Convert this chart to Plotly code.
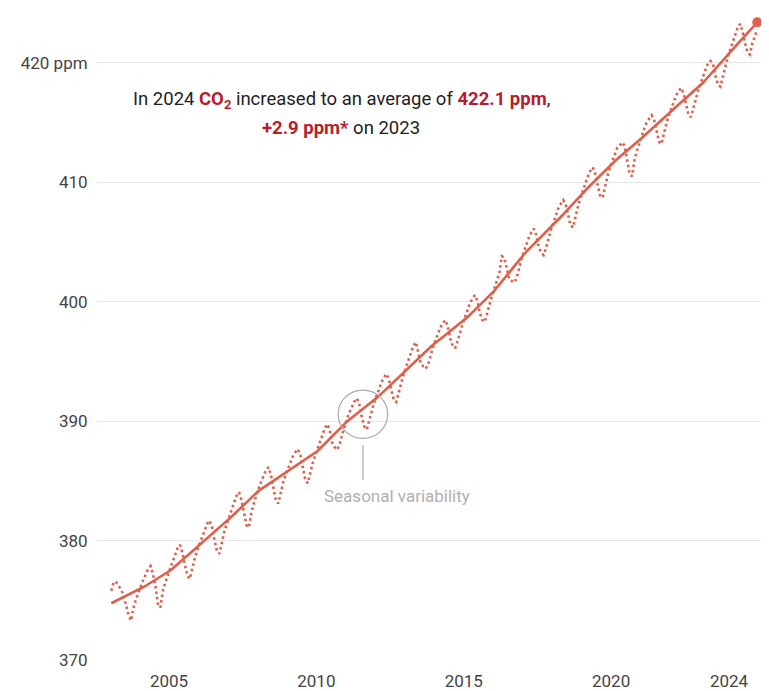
import plotly.graph_objects as go

# ---------------- data ----------------
years = list(range(2003, 2025))
months = list(range(1, 13))

# Monthly CO2 (dotted line), ppm, Jan..Dec per row
monthly_ppm = [
    375.80, 376.55, 376.50, 376.20, 375.90, 375.40, 374.60, 373.80, 373.30, 374.35, 375.05, 375.65,  # 2003
    376.16, 376.69, 377.16, 377.64, 377.86, 377.19, 376.11, 374.68, 374.40, 375.79, 376.51, 377.14,  # 2004
    377.69, 378.26, 378.79, 379.36, 379.64, 378.96, 377.94, 377.02, 376.80, 377.76, 378.54, 379.21,  # 2005
    379.79, 380.38, 380.91, 381.39, 381.68, 381.11, 380.09, 379.12, 378.90, 379.94, 380.73, 381.41,  # 2006
    382.00, 382.60, 383.15, 383.75, 384.05, 383.40, 382.40, 381.30, 381.10, 382.30, 383.10, 383.80,  # 2007
    384.37, 384.91, 385.40, 385.90, 386.14, 385.48, 384.42, 383.36, 383.10, 384.15, 384.89, 385.53,  # 2008
    386.07, 386.60, 387.08, 387.42, 387.65, 387.13, 386.07, 385.07, 384.80, 385.77, 386.50, 387.13,  # 2009
    387.70, 388.31, 388.87, 389.43, 389.74, 389.15, 388.15, 387.79, 387.60, 388.08, 388.89, 389.60,  # 2010
    390.18, 390.74, 391.25, 391.65, 391.91, 391.37, 390.33, 389.54, 389.30, 390.10, 390.86, 391.52,  # 2011
    392.10, 392.70, 393.25, 393.65, 393.95, 393.50, 392.50, 391.80, 391.60, 392.40, 393.20, 393.90,  # 2012
    394.50, 395.09, 395.63, 396.32, 396.61, 395.85, 394.85, 394.59, 394.38, 394.72, 395.51, 396.20,  # 2013
    396.78, 397.34, 397.85, 398.20, 398.46, 397.97, 396.93, 396.34, 396.10, 396.70, 397.46, 398.12,  # 2014
    398.70, 399.30, 399.85, 400.25, 400.55, 400.10, 399.10, 398.50, 398.30, 399.00, 399.80, 400.50,  # 2015
    401.13, 401.79, 402.40, 403.80, 403.70, 402.82, 401.88, 401.74, 401.60, 401.95, 402.81, 403.57,  # 2016
    404.20, 404.80, 405.35, 405.80, 406.10, 405.60, 404.60, 404.10, 403.90, 404.50, 405.30, 406.00,  # 2017
    406.61, 407.24, 407.81, 408.19, 408.51, 408.14, 407.16, 406.39, 406.21, 407.14, 407.96, 408.69,  # 2018
    409.30, 409.91, 410.47, 410.93, 411.24, 410.75, 409.75, 408.89, 408.70, 409.68, 410.49, 411.20,  # 2019
    411.79, 412.36, 412.89, 413.06, 413.34, 413.06, 412.04, 410.72, 410.50, 411.86, 412.64, 413.31,  # 2020
    413.90, 414.49, 415.03, 415.32, 415.61, 415.25, 414.25, 413.41, 413.20, 414.12, 414.91, 415.60,  # 2021
    416.19, 416.76, 417.29, 417.61, 417.89, 417.46, 416.44, 415.67, 415.45, 416.26, 417.04, 417.71,  # 2022
    418.32, 418.95, 419.53, 420.02, 420.15, 419.88, 418.92, 418.17, 418.00, 418.92, 419.75, 420.48,  # 2023
    421.11, 421.74, 422.31, 422.94, 423.26, 422.64, 421.66, 420.88, 420.70, 421.64, 422.20, 422.80,  # 2024
]

# De-seasonalised trend (solid line), ppm, Jan..Dec per row
trend_ppm = [
    374.75, 374.85, 374.95, 375.05, 375.15, 375.25, 375.35, 375.45, 375.55, 375.65, 375.75, 375.85,  # 2003
    375.96, 376.09, 376.21, 376.34, 376.46, 376.59, 376.71, 376.84, 376.96, 377.09, 377.21, 377.34,  # 2004
    377.49, 377.66, 377.84, 378.01, 378.19, 378.36, 378.54, 378.71, 378.89, 379.06, 379.24, 379.41,  # 2005
    379.59, 379.78, 379.96, 380.14, 380.33, 380.51, 380.69, 380.88, 381.06, 381.24, 381.43, 381.61,  # 2006
    381.80, 382.00, 382.20, 382.40, 382.60, 382.80, 383.00, 383.20, 383.40, 383.60, 383.80, 384.00,  # 2007
    384.17, 384.31, 384.45, 384.60, 384.74, 384.88, 385.02, 385.16, 385.30, 385.45, 385.59, 385.73,  # 2008
    385.87, 386.00, 386.13, 386.27, 386.40, 386.53, 386.67, 386.80, 386.93, 387.07, 387.20, 387.33,  # 2009
    387.50, 387.71, 387.92, 388.13, 388.34, 388.55, 388.75, 388.96, 389.17, 389.38, 389.59, 389.80,  # 2010
    389.98, 390.14, 390.30, 390.45, 390.61, 390.77, 390.93, 391.09, 391.25, 391.40, 391.56, 391.72,  # 2011
    391.90, 392.10, 392.30, 392.50, 392.70, 392.90, 393.10, 393.30, 393.50, 393.70, 393.90, 394.10,  # 2012
    394.30, 394.49, 394.68, 394.87, 395.06, 395.25, 395.45, 395.64, 395.83, 396.02, 396.21, 396.40,  # 2013
    396.58, 396.74, 396.90, 397.05, 397.21, 397.37, 397.53, 397.69, 397.85, 398.00, 398.16, 398.32,  # 2014
    398.50, 398.70, 398.90, 399.10, 399.30, 399.50, 399.70, 399.90, 400.10, 400.30, 400.50, 400.70,  # 2015
    400.93, 401.19, 401.45, 401.70, 401.96, 402.22, 402.48, 402.74, 403.00, 403.25, 403.51, 403.77,  # 2016
    404.00, 404.20, 404.40, 404.60, 404.80, 405.00, 405.20, 405.40, 405.60, 405.80, 406.00, 406.20,  # 2017
    406.41, 406.64, 406.86, 407.09, 407.31, 407.54, 407.76, 407.99, 408.21, 408.44, 408.66, 408.89,  # 2018
    409.10, 409.31, 409.52, 409.73, 409.94, 410.15, 410.35, 410.56, 410.77, 410.98, 411.19, 411.40,  # 2019
    411.59, 411.76, 411.94, 412.11, 412.29, 412.46, 412.64, 412.81, 412.99, 413.16, 413.34, 413.51,  # 2020
    413.70, 413.89, 414.08, 414.27, 414.46, 414.65, 414.85, 415.04, 415.23, 415.42, 415.61, 415.80,  # 2021
    415.99, 416.16, 416.34, 416.51, 416.69, 416.86, 417.04, 417.21, 417.39, 417.56, 417.74, 417.91,  # 2022
    418.12, 418.35, 418.58, 418.82, 419.05, 419.28, 419.52, 419.75, 419.98, 420.22, 420.45, 420.68,  # 2023
    420.91, 421.14, 421.36, 421.59, 421.81, 422.04, 422.26, 422.49, 422.71, 422.94, 423.16, 423.39,  # 2024
]

x_tick_values = [2005, 2010, 2015, 2020, 2024]
x_tick_labels = ["2005", "2010", "2015", "2020", "2024"]
y_tick_values = [370, 380, 390, 400, 410, 420]
y_tick_labels = ["370", "380", "390", "400", "410", "420 ppm"]

# mid-month positions on a decimal-year axis
x_time = [y + (m - 0.5) / 12 for y in years for m in months]

# ---------------- styles ----------------
LINE_COLOR = "#df5f4b"
RED_TEXT = "#b71c2e"
FONT = "Roboto"

fig = go.Figure()

fig.add_trace(go.Scatter(
    x=x_time, y=monthly_ppm, mode="lines",
    line=dict(color=LINE_COLOR, width=2.6, dash="2.5px,3px"),
    hoverinfo="skip", showlegend=False,
))
fig.add_trace(go.Scatter(
    x=x_time, y=trend_ppm, mode="lines",
    line=dict(color=LINE_COLOR, width=2.6),
    hoverinfo="skip", showlegend=False,
))
fig.add_trace(go.Scatter(
    x=[x_time[-1]], y=[trend_ppm[-1]], mode="markers",
    marker=dict(color=LINE_COLOR, size=10),
    hoverinfo="skip", showlegend=False, cliponaxis=False,
))

# seasonal variability circle + leader line
fig.add_shape(type="circle", xref="x", yref="y",
              x0=2010.74, x1=2012.42, y0=388.55, y1=392.60,
              line=dict(color="#a9a9a9", width=1.2))
fig.add_shape(type="line", xref="x", yref="y",
              x0=2011.58, x1=2011.58, y0=388.0, y1=385.1,
              line=dict(color="#a9a9a9", width=1.2))
fig.add_annotation(x=2012.74, y=383.75, xref="x", yref="y",
                   text="Seasonal variability", showarrow=False,
                   font=dict(family=FONT, size=17, color="#b0b0b0"),
                   xanchor="center", yanchor="middle")

# headline text
fig.add_annotation(
    x=2010.84, y=416.92, xref="x", yref="y", showarrow=False,
    xanchor="center", yanchor="middle",
    text=("In 2024 <b><span style='color:%s'>CO<sub>2</sub></span></b> increased to an average of "
          "<b><span style='color:%s'>422.1 ppm</span></b>,") % (RED_TEXT, RED_TEXT),
    font=dict(family=FONT, size=18.5, color="#222222"),
)
fig.add_annotation(
    x=2010.84, y=414.58, xref="x", yref="y", showarrow=False,
    xanchor="center", yanchor="middle",
    text="<b><span style='color:%s'>+2.9 ppm*</span></b> on 2023" % RED_TEXT,
    font=dict(family=FONT, size=18.5, color="#222222"),
)

# the page body has an 8px default margin, so the figure is sized/offset to compensate
fig.update_layout(
    width=761, height=683,
    margin=dict(l=89, r=0, t=2, b=28, pad=0),
    paper_bgcolor="white", plot_bgcolor="white",
    font=dict(family=FONT, size=17, color="#444444"),
    showlegend=False,
    hovermode=False,
)
fig.update_xaxes(
    range=[2002.557, 2025.357],
    tickvals=x_tick_values, ticktext=x_tick_labels,
    showgrid=False, zeroline=False, showline=False,
    ticks="outside", ticklen=6, tickcolor="rgba(0,0,0,0)",
    tickfont=dict(family=FONT, size=17, color="#444444"),
)
fig.update_yaxes(
    range=[370, 424.42],
    tickvals=y_tick_values, ticktext=y_tick_labels,
    showgrid=True, gridcolor="#e6e6e6", gridwidth=1,
    zeroline=False, showline=False,
    ticks="outside", ticklen=5, tickcolor="rgba(0,0,0,0)",
    tickfont=dict(family=FONT, size=17, color="#444444"),
)

fig.write_html("out.html")
